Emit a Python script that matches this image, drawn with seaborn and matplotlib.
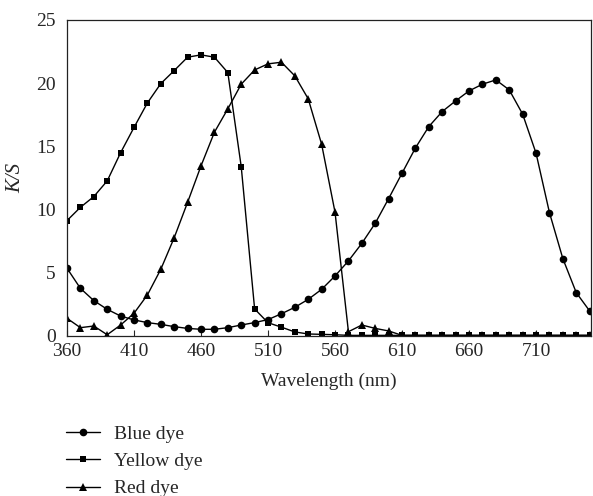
import matplotlib
matplotlib.use("Agg")
import matplotlib.pyplot as plt
import seaborn as sns
import pandas as pd

# | Data |--------------------------------------------------------------------------------------------------------------|
wavelength = list(range(360, 760, 10))

blue_dye = [5.36, 3.77, 2.80, 2.11, 1.58, 1.27, 1.06, 0.92, 0.74, 0.60,
            0.53, 0.53, 0.66, 0.87, 1.06, 1.30, 1.76, 2.27, 2.90, 3.69,
            4.75, 5.94, 7.33, 8.92, 10.87, 12.88, 14.88, 16.57, 17.76, 18.60,
            19.39, 19.92, 20.26, 19.47, 17.55, 14.46, 9.76, 6.12, 3.43, 1.98]

yellow_dye = [9.13, 10.18, 11.03, 12.27, 14.50, 16.50, 18.44, 19.97, 21.00, 22.06,
              22.24, 22.06, 20.84, 13.40, 2.14, 1.05, 0.70, 0.32, 0.16, 0.13,
              0.10, 0.05, 0.05, 0.05, 0.05, 0.05, 0.05, 0.05, 0.05, 0.05,
              0.05, 0.05, 0.05, 0.05, 0.05, 0.05, 0.05, 0.05, 0.05, 0.05]

red_dye = [1.40, 0.66, 0.79, 0.10, 0.87, 1.80, 3.25, 5.28, 7.78, 10.58,
           13.46, 16.12, 17.97, 19.92, 21.05, 21.53, 21.66, 20.58, 18.76, 15.17,
           9.79, 0.34, 0.87, 0.60, 0.40, 0.05, 0.05, 0.05, 0.05, 0.05,
           0.05, 0.05, 0.05, 0.05, 0.05, 0.05, 0.05, 0.05, 0.05, 0.05]

series_names = ["Blue dye", "Yellow dye", "Red dye"]
x_ticks = [360, 410, 460, 510, 560, 610, 660, 710]
y_ticks = [0, 5, 10, 15, 20, 25]
# |--------------------------------------------------------------------------------------------------------------------|

df = pd.DataFrame({
    "Wavelength": wavelength * 3,
    "KS": blue_dye + yellow_dye + red_dye,
    "Dye": [n for n in series_names for _ in wavelength],
})

sns.set_style("ticks")
plt.rcParams["font.family"] = ["Liberation Serif", "DejaVu Serif"]

fig = plt.figure(figsize=(5.93, 4.96), dpi=100)
ax = fig.add_axes([67 / 593, 1 - 336 / 496, (591 - 67) / 593, (336 - 20) / 496])

markers = {"Blue dye": "o", "Yellow dye": "s", "Red dye": "^"}
sizes = {"Blue dye": 5.5, "Yellow dye": 4.5, "Red dye": 5.5}
for name in series_names:
    sns.lineplot(data=df[df["Dye"] == name], x="Wavelength", y="KS", ax=ax,
                 color="black", linewidth=1.0, marker=markers[name],
                 markersize=sizes[name], markeredgewidth=0, label=name)

ax.set_xlim(360, 751)
ax.set_ylim(0, 25)
ax.set_xticks(x_ticks)
ax.set_yticks(y_ticks)
ax.tick_params(axis="x", direction="in", length=4, width=0.8, labelsize=14, pad=5)
ax.tick_params(axis="y", length=0, labelsize=14, pad=8)
for side in ["top", "right", "left", "bottom"]:
    ax.spines[side].set_visible(True)
    ax.spines[side].set_linewidth(0.9)
    ax.spines[side].set_color("#222222")

ax.set_xlabel("Wavelength (nm)", fontsize=14, labelpad=9)
ax.set_ylabel("K/S", fontsize=15, style="italic", labelpad=8)

ax.legend(loc="upper left", bbox_to_anchor=(0.112, 0.143), bbox_transform=fig.transFigure,
          frameon=False, fontsize=14, handlelength=1.75, handletextpad=0.7, labelspacing=0.5,
          borderaxespad=0, borderpad=0)

fig.savefig("out.png", dpi=100)
